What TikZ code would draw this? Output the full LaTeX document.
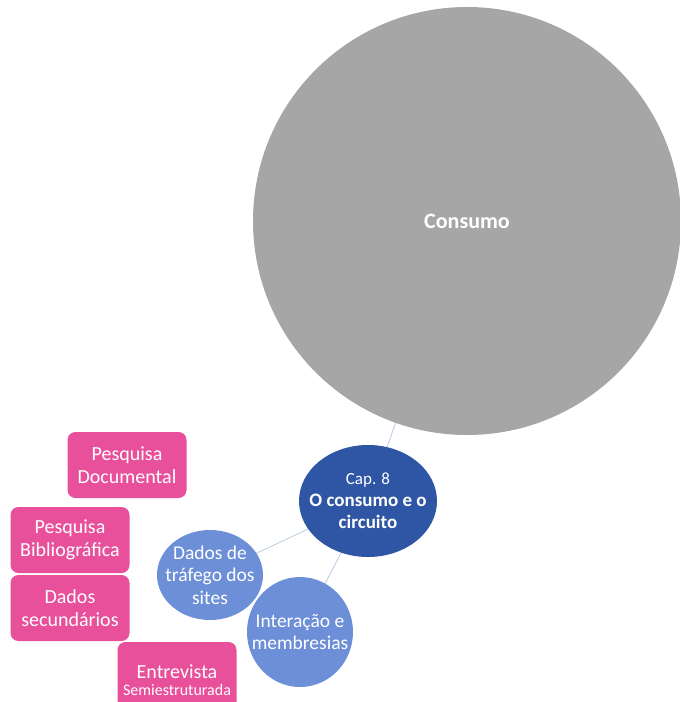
\documentclass[tikz,border=0pt]{standalone}
\usepackage{fontspec}
\setmainfont{Carlito}
\usepackage{xcolor}
\usetikzlibrary{shapes.geometric, positioning, backgrounds}
\definecolor{consgray}{HTML}{A6A6A6}
\definecolor{capblue}{HTML}{2F55A5}
\definecolor{topicblue}{HTML}{6D8FD8}
\definecolor{methodpink}{HTML}{E8509B}
\definecolor{linkblue}{HTML}{B9C9E4}
\tikzset{
  bigcircle/.style={circle, fill=consgray, minimum size=428pt, inner sep=0pt,
                    text=white, font=\fontsize{22}{26}\selectfont\bfseries},
  chapter/.style={ellipse, fill=capblue, minimum width=138pt, minimum height=112pt,
                  inner xsep=-16pt, inner ysep=0pt, align=center, text=white,
                  font=\fontsize{19}{22}\selectfont},
  topic/.style={ellipse, fill=topicblue, inner xsep=-12pt, inner ysep=-6pt,
                align=center, text=white, font=\fontsize{19.5}{22.5}\selectfont},
  method/.style={rectangle, fill=methodpink, rounded corners=8pt, inner sep=0pt,
                 minimum width=119pt, minimum height=66pt, align=center, text=white,
                 font=\fontsize{20}{23}\selectfont},
  link/.style={draw=linkblue, line width=0.8pt},
}

\begin{document}
\begin{tikzpicture}[x=1pt, y=-1pt]
  \clip (0,0) rectangle (680,702);

  % Theme
  \node[bigcircle] (consumo) at (467,221) {Consumo};

  % Chapter
  \node[chapter] (cap) at (368,501)
    {{\fontsize{17}{20}\selectfont Cap. 8}\\\textbf{O consumo e o}\\\textbf{circuito}};

  % Topics
  \node[topic, minimum width=106pt, minimum height=90pt] (trafego) at (210,575)
    {Dados de\\tráfego dos\\sites};
  \node[topic, minimum width=106pt, minimum height=110pt] (interacao) at (300,632)
    {Interação e\\membresias};

  % Methods
  \node[method] (documental) at (127,465) {Pesquisa\\Documental};
  \node[method] (bibliografica) at (70,540) {Pesquisa\\Bibliográfica};
  \node[method] (secundarios) at (70,608) {Dados\\secundários};
  \node[method, minimum height=76pt] (entrevista) at (177,680)
    {Entrevista\\[-6pt]{\fontsize{16}{15}\selectfont Semiestruturada}};

  % Edges
  \begin{scope}[on background layer]
    \draw[link] (consumo.center) -- (cap.center);
    \draw[link] (cap.center) -- (trafego.center);
    \draw[link] (cap.center) -- (interacao.center);
  \end{scope}

\end{tikzpicture}
\end{document}
